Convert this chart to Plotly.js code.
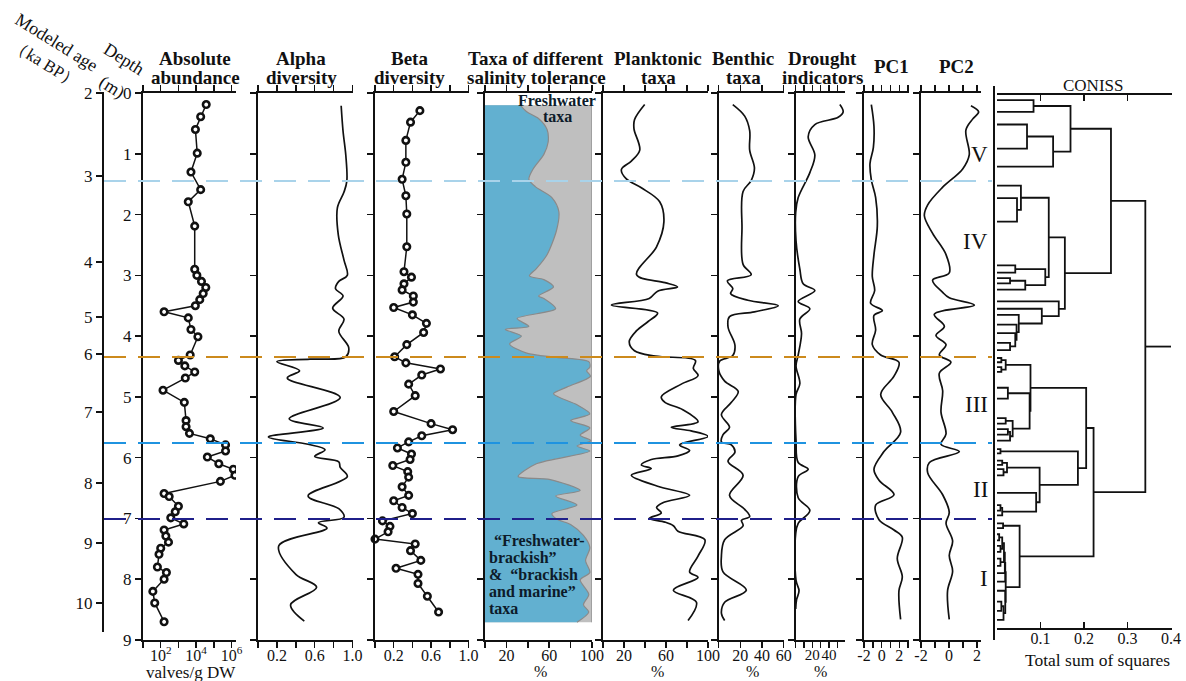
<!DOCTYPE html>
<html><head><meta charset="utf-8">
<script src="https://cdn.plot.ly/plotly-3.0.1.min.js"></script>
<style>html,body{margin:0;padding:0;background:#fff}#c{width:1186px;height:681px}</style>
</head><body><div id="c"></div>
<script>
// ---------------- DATA ----------------
const absDepth = [0.19,0.39,0.60,0.99,1.30,1.59,1.79,2.19,2.9,3.0,3.1,3.2,3.3,3.4,3.5,3.6,3.7,3.89,4.01,4.31,4.40,4.49,4.59,4.69,4.89,5.09,5.39,5.49,5.60,5.69,5.79,5.89,5.99,6.10,6.19,6.29,6.39,6.59,6.64,6.80,6.89,6.99,7.09,7.19,7.29,7.39,7.49,7.59,7.80,7.89,8.0,8.2,8.39,8.70];
const absValue = [37000,18000,9100,11500,5100,18000,3600,8300,8300,11000,20000,35000,25000,16000,9000,155,3600,5100,12600,4600,1000,2300,8300,2450,135,2150,2700,2700,4200,63000,457000,457000,43000,190000,1260000,1550000,234000,155,300,1000,660,370,2000,155,195,275,100,80,65,210,155,36,46,155];

const alphaDepth = [0.21,0.63,1.04,1.45,1.63,1.89,2.34,2.75,3.0,3.10,3.22,3.34,3.54,3.72,3.92,4.19,4.34,4.38,4.42,4.57,4.69,5.01,5.36,5.51,5.66,5.78,5.87,5.98,6.07,6.16,6.31,6.63,6.84,6.98,7.07,7.16,7.45,7.92,8.13,8.42,8.69];
const alphaValue = [0.88,0.90,0.93,0.94,0.91,0.84,0.85,0.91,0.945,0.855,0.82,0.90,0.79,0.91,0.855,0.96,0.93,0.55,0.20,0.44,0.31,0.87,0.33,0.69,0.11,0.53,0.71,0.60,0.855,0.87,0.945,0.53,0.855,0.91,0.64,0.73,0.22,0.40,0.62,0.345,0.49];

const betaDepth = [0.29,0.48,0.78,1.14,1.42,1.69,1.99,2.53,2.94,3.03,3.14,3.24,3.34,3.44,3.53,3.65,3.79,3.94,4.14,4.34,4.44,4.54,4.64,4.79,4.98,5.24,5.44,5.54,5.64,5.74,5.84,5.94,6.03,6.13,6.23,6.32,6.48,6.62,6.71,6.82,6.92,7.04,7.13,7.22,7.34,7.42,7.53,7.69,7.82,7.92,8.07,8.28,8.54];
const betaValue = [0.48,0.38,0.33,0.33,0.29,0.33,0.34,0.34,0.31,0.39,0.31,0.29,0.41,0.41,0.20,0.40,0.55,0.52,0.34,0.21,0.33,0.70,0.50,0.36,0.43,0.20,0.60,0.83,0.50,0.36,0.24,0.39,0.375,0.19,0.35,0.36,0.29,0.36,0.20,0.29,0.40,0.08,0.16,0.14,0.0,0.43,0.38,0.49,0.225,0.46,0.46,0.56,0.68];

// % of "freshwater-brackish" & "brackish and marine" taxa (rest = freshwater taxa)
const salDepth = [0.2,0.31,0.42,0.6,0.81,1.01,1.25,1.42,1.54,1.72,1.95,2.25,2.66,2.89,3.01,3.07,3.19,3.34,3.38,3.55,3.71,3.84,3.89,4.0,4.13,4.28,4.35,4.42,4.51,4.57,4.66,4.84,4.95,5.13,5.28,5.39,5.51,5.63,5.72,5.81,5.89,6.1,6.31,6.36,6.54,6.63,6.78,6.92,7.01,7.1,7.28,7.48,7.69,7.89,8.01,8.25,8.42,8.54,8.71];
const salBrackish = [33,39,50,58,59,55,45,41,47,62.5,69,67,58,48,41.5,55,64,50,55,66,30,41,19,34,23,39,67,97,98,95,98.5,76.5,64,86,98,80,98,89,99,86,98,48,31,61,89,66,86,62.5,67,80,92,98,94,98,89,97,92,97,86];

const plankDepth = [0.19,0.44,0.59,0.94,1.12,1.26,1.41,1.56,1.79,2.12,2.53,2.99,3.12,3.19,3.26,3.38,3.49,3.62,3.76,3.91,4.09,4.24,4.33,4.40,4.53,4.65,4.79,5.0,5.09,5.21,5.41,5.5,5.56,5.65,5.79,5.88,5.97,6.03,6.12,6.18,6.29,6.47,6.62,6.74,6.82,6.91,7.0,7.06,7.12,7.21,7.35,7.62,7.88,7.97,8.18,8.38,8.68];
const plankValue = [39.7,30,29.5,35,27,17.5,22,36.5,54,58,51,32,59,71,52,44,8,52,43,32,25,30,50,88,86,90.5,74.6,55.5,59,76,90.5,65,84,100,73,82.5,71.4,46,36.5,46,27,52,82.5,57,51,55.5,44,59,67,71.4,97,90.5,82.5,90.5,67,89,81];

const benthDepth = [0.19,0.38,0.62,0.94,1.24,1.44,1.62,2.21,2.82,2.99,3.09,3.22,3.3,3.41,3.5,3.6,3.68,3.85,4.15,4.32,4.41,4.56,4.74,4.91,5.09,5.29,5.5,5.62,5.74,5.79,5.91,6.06,6.29,6.62,6.85,6.97,7.03,7.12,7.35,7.62,7.88,8.18,8.38,8.56,8.68];
const benthValue = [13,24,28.6,28.6,33,30,22.5,21.5,22.5,30,8,13,11,27,55,33,10,8.6,15,13,1,0,5.5,18,11.7,2.5,10,4,2.5,11.7,15,8.6,22.5,10,24,28.6,21,22.5,5.5,2.5,4,25.5,5.5,2.5,5.5];

const droughtDepth = [0.19,0.31,0.4,0.52,0.72,1.02,1.31,1.72,1.96,2.43,2.9,3.14,3.25,3.43,3.55,3.72,3.96,4.31,4.49,4.78,4.96,5.72,6.08,6.19,6.31,6.66,6.87,7.08,7.25,8.02,8.19,8.34,8.49];
const droughtValue = [53,57,51,23,15,23,17,3,0,0.4,5,9,23,3,17,5,7,3,0.4,5,0.4,0.4,3,15,3,3,17,3,0,0.4,4,1,0];

const pc1Depth = [0.19,0.55,0.9,1.16,1.43,1.72,2.19,2.66,3.02,3.25,3.46,3.58,3.66,3.9,4.14,4.31,4.43,4.66,4.96,5.25,5.58,5.9,6.19,6.37,6.61,6.78,7.02,7.19,7.31,7.66,7.96,8.19,8.66];
const pc1Value = [-1.17,-0.87,-0.94,-1.32,-1.17,-0.68,-0.49,-0.87,-1.06,-0.79,-1.25,0.08,-0.87,-0.68,-1.06,-0.11,1.96,1.4,-0.11,1.2,2.15,0.26,-0.87,-0.3,1.4,-0.68,-0.3,1.4,2.34,1.77,2.34,1.96,2.15];

const pc2Depth = [0.21,0.31,0.43,0.61,1.02,1.25,1.55,1.84,2.02,2.31,2.66,2.96,3.08,3.28,3.37,3.49,3.64,3.84,3.99,4.14,4.31,4.43,4.61,4.9,5.25,5.61,5.78,5.9,6.08,6.25,6.61,6.9,7.08,7.37,7.61,7.87,8.19,8.66];
const pc2Value = [1.57,2.12,1.69,1.21,1.45,0.98,-0.45,-1.52,-1.76,-1.17,-0.21,0.02,-1.17,-0.45,0.02,1.81,-1.05,-0.33,-0.93,-0.21,-0.69,0.14,-0.69,-0.45,-0.57,-0.21,-0.57,0.74,-1.4,-1.52,-0.45,0.02,-0.21,0.26,0.02,0.26,-0.1,0.02];

// CONISS: sample depths (leaves) and merges [childA, childB, total sum of squares]
const conissLeaves = [0.116,0.311,0.518,0.914,1.21,
  1.524,1.731,2.116,2.837,2.956,3.045,3.133,3.234,3.43,3.55,3.65,3.81,3.95,4.11,4.23,
  4.36,4.43,4.51,4.59,4.85,5.03,5.35,5.44,5.53,5.62,5.72,
  5.86,5.93,6.05,6.12,6.19,6.29,6.58,6.78,6.87,6.95,
  7.08,7.16,7.26,7.36,7.45,7.55,7.66,7.78,7.90,8.04,8.19,8.37,8.52,8.67];
const conissMerges = [
  [0,1,0.084],[2,3,0.069],[56,4,0.129],[55,57,0.169],
  [6,7,0.046],[5,59,0.055],[8,9,0.042],[10,11,0.030],[62,12,0.065],[61,63,0.111],[60,64,0.119],
  [18,19,0.030],[17,66,0.042],[16,67,0.045],[15,68,0.050],[14,69,0.103],[13,70,0.142],[65,71,0.156],[58,72,0.262],
  [20,21,0.010],[22,23,0.010],[74,75,0.020],[24,25,0.025],[26,27,0.020],[28,29,0.025],[79,30,0.030],[78,80,0.036],[77,81,0.075],[76,82,0.077],
  [31,32,0.008],[33,34,0.012],[35,36,0.015],[85,86,0.023],[38,39,0.008],[88,40,0.012],[37,89,0.090],[87,90,0.098],[84,91,0.186],[83,92,0.205],
  [41,42,0.014],[43,44,0.005],[45,46,0.008],[95,96,0.012],[47,48,0.008],[97,98,0.016],[99,49,0.018],[100,50,0.019],[52,53,0.010],[102,54,0.015],[51,103,0.019],[101,104,0.020],[94,105,0.052],
  [93,106,0.222],[73,107,0.341]];
const zoneNames = ['V','IV','III','II','I'];
const zoneLabelDepth = [1.02,2.45,5.13,6.53,7.98];
const zoneBoundaryDepth = [1.448,4.344,5.759,7.009];
const zoneBoundaryColor = ['#a9d3ea','#cc8a1c','#1f93e0','#1f1f8a'];

const ageLabels = [2,3,4,5,6,7,8,9,10];
const ageTickDepth = [0,1.366,2.781,3.686,4.294,5.249,6.417,7.404,8.391];

// ---------------- LAYOUT HELPERS ----------------
const W=1186,H=681;
const FONT='Liberation Serif, Times New Roman, serif';
const px=x=>x/W, py=y=>1-y/H;
const depthDom=[py(640),py(93)];

const panels=[
 {l:143,r:236,type:'log',range:[1,6.25],tv:[10,100,1e3,1e4,1e5,1e6],tt:['','10<sup>2</sup>','','10<sup>4</sup>','','10<sup>6</sup>']},
 {l:258,r:352.5,range:[0,1],tv:[0,0.2,0.4,0.6,0.8,1],tt:['','0.2','','0.6','','1.0']},
 {l:375,r:468.5,range:[0,1],tv:[0,0.2,0.4,0.6,0.8,1],tt:['','0.2','','0.6','','1.0']},
 {l:485,r:592,range:[0,100],tv:[0,20,40,60,80,100],tt:['','20','','60','','100']},
 {l:603,r:708,range:[0,100],tv:[0,20,40,60,80,100],tt:['','20','','60','','100']},
 {l:718.7,r:783.7,range:[0,60],tv:[0,20,40,60],tt:['','20','40','60']},
 {l:795.7,r:845,range:[0,59.2],tv:[0,10,20,30,40,50],tt:['','','20','','40',''],fs:15},
 {l:864,r:909,range:[-2,3.1],tv:[-2,-1,0,1,2,3],tt:['-2','','0','','2','']},
 {l:921,r:981,range:[-2,2.29],tv:[-2,-1,0,1,2],tt:['-2','','0','','2']}
];

const layout={width:W,height:H,margin:{l:0,r:0,t:0,b:0},paper_bgcolor:'#fff',plot_bgcolor:'rgba(0,0,0,0)',
  showlegend:false,font:{family:FONT,size:16,color:'#111'},annotations:[],shapes:[]};

panels.forEach((p,i)=>{
  const n=i+1, sx=n===1?'':n;
  layout['xaxis'+sx]={domain:[px(p.l),px(p.r)],anchor:'y'+sx,type:p.type||'linear',range:p.range,
    tickvals:p.tv,ticktext:p.tt,ticks:'outside',ticklen:6,tickwidth:1.5,tickcolor:'#111',tickangle:0,
    ticklabelstandoff:-6,
    showline:true,linecolor:'#111',linewidth:2,mirror:'ticks',showgrid:false,zeroline:false,
    tickfont:{family:FONT,size:p.fs||16,color:'#111'}};
  layout['yaxis'+sx]={domain:depthDom,anchor:'x'+sx,range:[9,0],tickvals:[0,1,2,3,4,5,6,7,8,9],
    ticks:'outside',ticklen:6,tickwidth:1.5,tickcolor:'#111',showline:true,linecolor:'#111',linewidth:2,
    showgrid:false,zeroline:false,showticklabels:n===1,tickfont:{family:FONT,size:17,color:'#111'}};
});
// CONISS axes
const cTop=95,cBot=628;
layout.xaxis10={domain:[px(997),px(1172)],anchor:'y10',range:[0,0.4023],tickvals:[0,0.1,0.2,0.3,0.4],
  ticktext:['','0.1','0.2','0.3','0.4'],ticks:'inside',ticklen:6,tickwidth:1.5,tickcolor:'#111',tickangle:0,
  ticklabelstandoff:-5,
  showline:true,linecolor:'#111',linewidth:2,mirror:'ticks',showgrid:false,zeroline:false,
  tickfont:{family:FONT,size:16,color:'#111'}};
layout.yaxis10={domain:[py(cBot),py(cTop)],anchor:'x10',range:[(cBot-93)/60.778,(cTop-93)/60.778],
  showline:false,showticklabels:false,ticks:'',showgrid:false,zeroline:false};
// Modeled age axis
layout.yaxis11={domain:[py(632),py(92)],anchor:'free',position:px(103),side:'left',overlaying:false,
  range:[(632-93)/60.778,(92-93)/60.778],tickvals:ageTickDepth,ticktext:ageLabels.map(String),
  ticks:'outside',ticklen:6,tickwidth:1.5,tickcolor:'#111',showline:true,linecolor:'#111',linewidth:2,
  showgrid:false,zeroline:false,tickfont:{family:FONT,size:17,color:'#111'}};

// CONISS vertical line
layout.shapes.push({type:'line',xref:'paper',yref:'paper',x0:px(994),x1:px(994),y0:py(86),y1:py(640),
  line:{color:'#111',width:2}});
// zone boundary dashed lines
zoneBoundaryDepth.forEach((d,i)=>{
  layout.shapes.push({type:'line',xref:'paper',yref:'y',x0:px(104),x1:px(992),y0:d,y1:d,
    line:{color:zoneBoundaryColor[i],width:1.8,dash:'22px,12px'}});
});

// ---------------- TRACES ----------------
const blk='#111';
const mk={symbol:'circle',size:6.5,color:'#fff',line:{color:blk,width:2.6}};
const traces=[
 {x:absValue,y:absDepth,xaxis:'x',yaxis:'y',mode:'lines+markers',line:{color:blk,width:1.5},marker:mk},
 {x:alphaValue,y:alphaDepth,xaxis:'x2',yaxis:'y2',mode:'lines',line:{color:blk,width:1.7,shape:'spline',smoothing:1}},
 {x:betaValue,y:betaDepth,xaxis:'x3',yaxis:'y3',mode:'lines+markers',line:{color:blk,width:1.5},marker:mk,cliponaxis:false},
 {x:salDepth.map(()=>panels[3].range[1]),y:salDepth,xaxis:'x4',yaxis:'y4',mode:'lines',fill:'tozerox',
   fillcolor:'#bfbfbf',line:{color:'#8c8c8c',width:1.2}},
 {x:salBrackish,y:salDepth,xaxis:'x4',yaxis:'y4',mode:'lines',fill:'tozerox',fillcolor:'#62b0d0',
   line:{color:'#8a8a8a',width:1.2,shape:'spline',smoothing:0.8}},
 {x:plankValue,y:plankDepth,xaxis:'x5',yaxis:'y5',mode:'lines',line:{color:blk,width:1.7,shape:'spline',smoothing:1}},
 {x:benthValue,y:benthDepth,xaxis:'x6',yaxis:'y6',mode:'lines',line:{color:blk,width:1.7,shape:'spline',smoothing:1}},
 {x:droughtValue,y:droughtDepth,xaxis:'x7',yaxis:'y7',mode:'lines',line:{color:blk,width:1.7,shape:'spline',smoothing:1}},
 {x:pc1Value,y:pc1Depth,xaxis:'x8',yaxis:'y8',mode:'lines',line:{color:blk,width:1.7,shape:'spline',smoothing:1}},
 {x:pc2Value,y:pc2Depth,xaxis:'x9',yaxis:'y9',mode:'lines',line:{color:blk,width:1.7,shape:'spline',smoothing:1}}
];
// dendrogram
(function(){
  const pos=conissLeaves.slice(), hh=conissLeaves.map(()=>0), xs=[], ys=[];
  conissMerges.forEach(([a,b,h])=>{
    xs.push(hh[a],h,h,hh[b],null); ys.push(pos[a],pos[a],pos[b],pos[b],null);
    pos.push((pos[a]+pos[b])/2); hh.push(h);
  });
  const r=pos.length-1;
  xs.push(hh[r],0.4); ys.push(pos[r],pos[r]);
  traces.push({x:xs,y:ys,xaxis:'x10',yaxis:'y10',mode:'lines',line:{color:blk,width:1.8},connectgaps:false});
})();
// anchor trace for the age axis
traces.push({x:[1000],y:[4],xaxis:'x',yaxis:'y11',mode:'markers',marker:{opacity:0},hoverinfo:'skip'});

// ---------------- TEXT ----------------
const A=(t,x,y,o)=>layout.annotations.push(Object.assign({text:t,xref:'paper',yref:'paper',x:px(x),y:py(y),
  showarrow:false,xanchor:'center',yanchor:'middle',font:{family:FONT,size:19,color:'#111'}},o||{}));
const titles=[['<b>Absolute</b>','<b>abundance</b>',195],['<b>Alpha</b>','<b>diversity</b>',301],['<b>Beta</b>','<b>diversity</b>',409],
  ['<b>Taxa of different</b>','<b>salinity tolerance</b>',536],['<b>Planktonic</b>','<b>taxa</b>',658],['<b>Benthic</b>','<b>taxa</b>',743],
  ['<b>Drought</b>','<b>indicators</b>',822]];
titles.forEach(t=>{A(t[0],t[2],58);A(t[1],t[2],77);});
A('<b>PC1</b>',891,67);A('<b>PC2</b>',957,67);
A('CONISS',1093,86,{font:{family:FONT,size:17,color:'#111'}});
A('Total sum of squares',1097,660,{font:{family:FONT,size:17.5,color:'#111'}});
A('valves/g DW',191,672,{font:{family:FONT,size:17,color:'#111'}});
[540,657,752,820].forEach(x=>A('%',x,671,{font:{family:FONT,size:16,color:'#111'}}));
A('Modeled age',56,42,{textangle:32,font:{family:FONT,size:18,color:'#111'}});
A('（ka BP）',45,63,{textangle:32,font:{family:FONT,size:17,color:'#111'}});
A('Depth',124,59,{textangle:32,font:{family:FONT,size:18,color:'#111'}});
A('(m)',112,87,{textangle:32,font:{family:FONT,size:18,color:'#111'}});
// salinity panel labels
const sb={font:{family:FONT,size:16,color:'#0d1b2a'}};
A('<b>Freshwater</b>',557,100,sb);A('<b>taxa</b>',557,116,sb);
[['<b>“Freshwater-</b>',492,540],['<b>brackish”</b>',487,557],['<b>&amp;  “brackish</b>',487,574],['<b>and marine”</b>',487,591],['<b>taxa</b>',487,608]]
 .forEach(a=>A(a[0],a[1],a[2],Object.assign({xanchor:'left'},sb)));
// zone labels
zoneNames.forEach((z,i)=>layout.annotations.push({text:z,xref:'paper',yref:'y',x:px(990),y:zoneLabelDepth[i],
  xanchor:'right',yanchor:'middle',showarrow:false,font:{family:FONT,size:23,color:'#111'}}));

Plotly.newPlot('c',traces,layout,{staticPlot:true,displayModeBar:false});
</script></body></html>
